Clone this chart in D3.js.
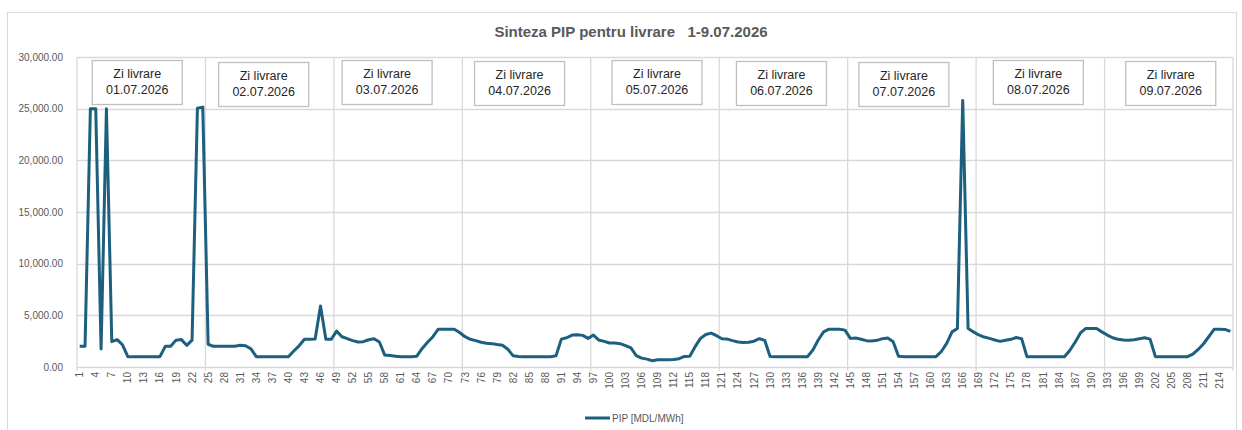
<!DOCTYPE html>
<html>
<head>
<meta charset="utf-8">
<script src="https://cdn.jsdelivr.net/npm/d3@7"></script>
<style>
	body { margin: 0; background: #fff; }
	svg text { font-family: "Liberation Sans", Arial, sans-serif; }
</style>
</head>
<body>
<div id="chart"></div>
<script>
// hourly PIP values, 9 delivery days x 24 hours
var pip = [
	2000, 2000, 25000, 25000, 1750, 25000, 2450, 2650, 2150, 1000, 1000, 1000,
	1000, 1000, 1000, 1000, 2000, 2000, 2600, 2650, 2100, 2600, 25050, 25150,
	2200, 2000, 2000, 2000, 2000, 2000, 2100, 2050, 1750, 1000, 1000, 1000,
	1000, 1000, 1000, 1000, 1550, 2050, 2680, 2690, 2700, 5900, 2680, 2680,
	3470, 2930, 2740, 2550, 2420, 2450, 2640, 2740, 2420, 1150, 1110, 1050,
	1000, 1000, 1000, 1050, 1800, 2390, 2930, 3660, 3660, 3660, 3660, 3340,
	2930, 2680, 2550, 2390, 2290, 2260, 2170, 2100, 1720, 1080, 1020, 1000,
	1000, 1000, 1000, 1000, 1000, 1080, 2700, 2830, 3090, 3120, 3060, 2770,
	3090, 2610, 2480, 2320, 2320, 2260, 2070, 1850, 1110, 860, 760, 600,
	700, 700, 700, 720, 800, 1020, 1050, 1970, 2770, 3150, 3280, 3030,
	2740, 2700, 2550, 2420, 2360, 2390, 2500, 2740, 2580, 1020, 1000, 1000,
	1000, 1000, 1000, 1000, 1000, 1650, 2610, 3400, 3660, 3660, 3660, 3570,
	2770, 2800, 2680, 2550, 2520, 2580, 2740, 2800, 2450, 1050, 1000, 1000,
	1000, 1000, 1000, 1000, 1000, 1500, 2290, 3400, 3730, 25800, 3730, 3400,
	3100, 2900, 2770, 2610, 2480, 2580, 2680, 2850, 2740, 1000, 1000, 1000,
	1000, 1000, 1000, 1000, 1000, 1600, 2400, 3300, 3730, 3730, 3730, 3400,
	3090, 2830, 2680, 2610, 2580, 2640, 2740, 2830, 2700, 1000, 1000, 1000,
	1000, 1000, 1000, 1000, 1250, 1700, 2250, 2950, 3660, 3660, 3640, 3450
];
var hours = d3.range(1, pip.length + 1);
var days = ["01.07.2026", "02.07.2026", "03.07.2026", "04.07.2026", "05.07.2026",
	"06.07.2026", "07.07.2026", "08.07.2026", "09.07.2026"];
var yTicks = [0, 5000, 10000, 15000, 20000, 25000, 30000];
var title = "Sinteza PIP pentru livrare\u00a0\u00a0 1-9.07.2026";
var seriesName = "PIP [MDL/MWh]";

// small nudges of the day label boxes (as placed by hand in the original)
var boxDx = [-4, -6, -11, -7, 2, -2, -8, -2, 2];
var boxTop = [60, 62, 60, 61, 60, 61, 62, 60, 61];

var width = 1242, height = 430;
var margin = {top: 57, right: 9, bottom: 63, left: 77};
var gray = "#595959", gridColor = "#d9d9d9", lineColor = "#1d5f7e";

var svg = d3.select("#chart").append("svg")
	.attr("width", width)
	.attr("height", height);

// outer chart frame
svg.append("rect")
	.attr("x", 7.5).attr("y", 12.5)
	.attr("width", 1229).attr("height", 430)
	.attr("fill", "#fff")
	.attr("stroke", "#d9d9d9");

var x = d3.scaleBand()
	.domain(hours)
	.range([margin.left, width - margin.right])
	.padding(0);

var y = d3.scaleLinear()
	.domain([0, 30000])
	.range([height - margin.bottom, margin.top]);

var xc = function(h) { return x(h) + x.bandwidth() / 2; };

// horizontal grid
svg.append("g")
	.selectAll("line")
	.data(yTicks)
	.enter()
		.append("line")
			.attr("x1", margin.left)
			.attr("x2", width - margin.right)
			.attr("y1", function(d) { return Math.round(y(d)) + 0.5; })
			.attr("y2", function(d) { return Math.round(y(d)) + 0.5; })
			.attr("stroke", gridColor)
			.attr("stroke-width", 1.3);

// day separators
var bounds = d3.range(0, days.length + 1).map(function(k) { return k * 24; });
svg.append("g")
	.selectAll("line")
	.data(bounds)
	.enter()
		.append("line")
			.attr("x1", function(k) { return k == 0 ? x(1) : x(k) + x.bandwidth(); })
			.attr("x2", function(k) { return k == 0 ? x(1) : x(k) + x.bandwidth(); })
			.attr("y1", y(30000))
			.attr("y2", y(0) + 4)
			.attr("stroke", gridColor)
			.attr("stroke-width", 1.3);

// y axis labels
var yAxis = svg.append("g")
	.attr("transform", "translate(" + (margin.left - 11) + ",0)")
	.call(d3.axisLeft(y).tickValues(yTicks).tickSize(0).tickFormat(d3.format(",.2f")));
yAxis.select(".domain").remove();
yAxis.selectAll("text")
	.attr("fill", gray)
	.style("font-size", "10px");

// x axis labels, every 3rd hour
var xAxis = svg.append("g")
	.attr("transform", "translate(0," + y(0) + ")")
	.call(d3.axisBottom(x)
		.tickValues(hours.filter(function(h) { return (h - 1) % 3 == 0; }))
		.tickSize(0));
xAxis.select(".domain").remove();
xAxis.selectAll("text")
	.attr("fill", gray)
	.style("font-size", "10px")
	.attr("text-anchor", "end")
	.attr("transform", "rotate(-90)")
	.attr("x", -5)
	.attr("y", 0)
	.attr("dy", "0.35em");

// series line
var line = d3.line()
	.x(function(d, i) { return xc(hours[i]); })
	.y(function(d) { return y(d); });

svg.append("path")
	.datum(pip)
	.attr("d", line)
	.attr("fill", "none")
	.attr("stroke", lineColor)
	.attr("stroke-width", 3)
	.attr("stroke-linejoin", "round");

// day label boxes
var boxes = svg.append("g")
	.selectAll("g")
	.data(days)
	.enter()
		.append("g")
			.attr("transform", function(d, k) {
				var cx = x(k * 24 + 1) + 12 * x.bandwidth() + boxDx[k];
				return "translate(" + cx + "," + boxTop[k] + ")";
			});

boxes.append("rect")
	.attr("x", -45).attr("y", 0.5)
	.attr("width", 90).attr("height", 44)
	.attr("fill", "#fff")
	.attr("stroke", "#bfbfbf")
	.attr("stroke-width", 1.3);

boxes.append("text")
	.attr("text-anchor", "middle")
	.attr("y", 18)
	.attr("fill", "#262626")
	.style("font-size", "12.5px")
	.text("Zi livrare");

boxes.append("text")
	.attr("text-anchor", "middle")
	.attr("y", 34)
	.attr("fill", "#262626")
	.style("font-size", "12.5px")
	.text(function(d) { return d; });

// title
svg.append("text")
	.attr("x", 631)
	.attr("y", 37)
	.attr("text-anchor", "middle")
	.attr("fill", gray)
	.style("font-size", "15px")
	.style("font-weight", "bold")
	.text(title);

// legend
var legend = svg.append("g").attr("transform", "translate(585,418)");
legend.append("line")
	.attr("x1", 0).attr("x2", 25)
	.attr("stroke", lineColor)
	.attr("stroke-width", 3);
legend.append("text")
	.attr("x", 27)
	.attr("dy", "0.35em")
	.attr("fill", gray)
	.style("font-size", "10px")
	.text(seriesName);
</script>
</body>
</html>
